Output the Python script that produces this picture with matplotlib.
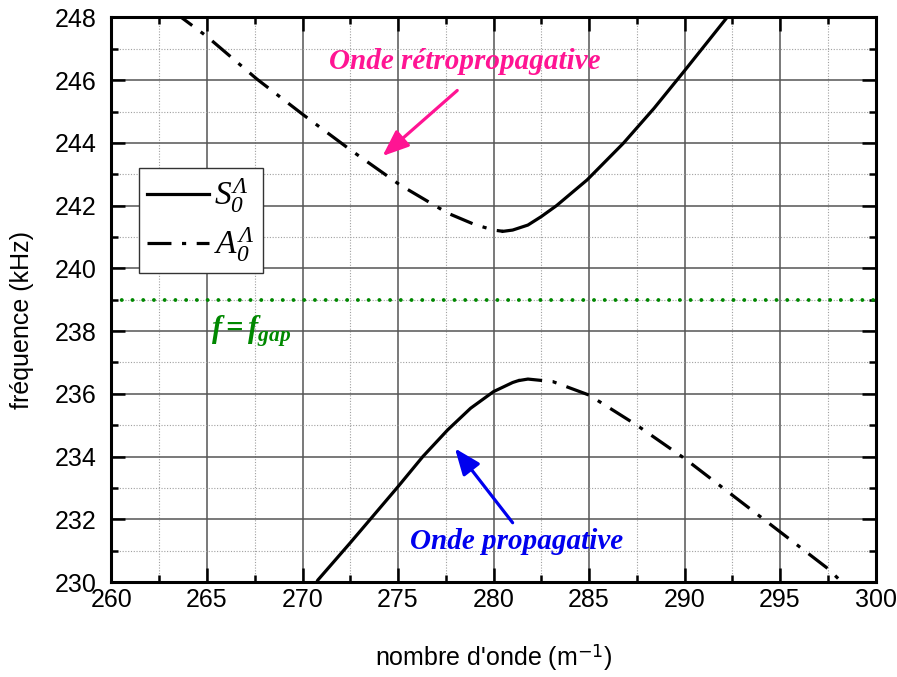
import matplotlib
matplotlib.use("Agg")
import matplotlib.pyplot as plt
from matplotlib.ticker import MultipleLocator

plt.rcParams["font.family"] = ["Liberation Sans", "DejaVu Sans"]
plt.rcParams["mathtext.fontset"] = "custom"
plt.rcParams["mathtext.rm"] = "Liberation Serif:italic"
plt.rcParams["mathtext.it"] = "Liberation Serif:italic"
plt.rcParams["mathtext.bf"] = "Liberation Serif:italic:bold"

# branche S0 (trait plein)
s0_up_k = [280.5, 281.0, 281.8, 282.5, 283.3, 284.9, 286.8, 288.4, 290.0, 292.2, 292.5]
s0_up_f = [241.18, 241.22, 241.38, 241.65, 242.0, 242.82, 243.99, 245.1, 246.3, 247.98, 248.3]
s0_lo_k = [270.6, 270.8, 272.5, 275.0, 276.3, 277.6, 278.8, 280.0, 281.0, 281.3]
s0_lo_f = [229.8, 230.06, 231.25, 233.04, 234.0, 234.85, 235.54, 236.07, 236.36, 236.42]

# branche A0 (tiret-point)
a0_up_k = [263.3, 263.7, 265.0, 267.6, 270.05, 272.5, 275.1, 277.6, 279.0, 280.0, 280.5]
a0_up_f = [248.25, 247.98, 247.39, 246.04, 244.89, 243.78, 242.66, 241.76, 241.4, 241.22, 241.18]
a0_lo_k = [281.3, 281.8, 283.1, 285.0, 287.5, 290.0, 292.5, 295.0, 297.5, 298.4]
a0_lo_f = [236.42, 236.47, 236.39, 235.96, 235.0, 233.94, 232.77, 231.6, 230.43, 229.9]

f_gap = 239.0

fig = plt.figure(figsize=(8.97, 6.77), dpi=100)
ax = fig.add_axes([0.1243, 0.1403, 0.8518, 0.834])

dashdot = (0, (7.5, 3.3, 1.3, 3.3))
ln_s, = ax.plot(s0_up_k, s0_up_f, color="black", lw=2.3, label=r"$S_{0}^{\Lambda}$")
ax.plot(s0_lo_k, s0_lo_f, color="black", lw=2.3)
ln_a, = ax.plot(a0_up_k, a0_up_f, color="black", lw=2.3, ls=dashdot,
                label=r"$A_{0}^{\Lambda}$")
ax.plot(a0_lo_k, a0_lo_f, color="black", lw=2.3, ls=dashdot)

ax.axhline(f_gap, color="#008800", lw=2.8, ls=(0, (0.01, 2.75)),
           dash_capstyle="round")

ax.set_xlim(260, 300)
ax.set_ylim(230, 248)
ax.xaxis.set_major_locator(MultipleLocator(5))
ax.xaxis.set_minor_locator(MultipleLocator(2.5))
ax.yaxis.set_major_locator(MultipleLocator(2))
ax.yaxis.set_minor_locator(MultipleLocator(1))

ax.grid(True, which="major", color="#555555", lw=1.1, ls="-")
ax.grid(True, which="minor", color="#a0a0a0", lw=0.8, ls=(0, (1, 1.5)))
ax.set_axisbelow(True)

for s in ax.spines.values():
    s.set_linewidth(2.2)
ax.tick_params(which="both", direction="in", top=True, right=True, width=1.8)
ax.tick_params(which="major", length=10)
ax.tick_params(which="minor", length=5)
ax.tick_params(axis="y", which="major", labelsize=18, pad=11)
ax.tick_params(axis="x", which="major", labelsize=18, pad=4)

ax.set_xlabel("nombre d'onde (m$^{\\mathsf{-1}}$)", fontsize=18, labelpad=22)
ax.set_ylabel("fréquence (kHz)", fontsize=18)
ax.yaxis.set_label_coords(-0.102, 0.464)

leg = ax.legend(handles=[ln_s, ln_a], loc="upper left", bbox_to_anchor=(0.036, 0.733),
                fontsize=24, frameon=True, fancybox=False, framealpha=1,
                edgecolor="#333333", handlelength=1.85, borderpad=0.25,
                labelspacing=0.3, handletextpad=0.15, borderaxespad=0)
leg.get_frame().set_linewidth(1.0)

# annotations
ax.text(278.5, 246.6, "Onde rétropropagative", color="#FF1493", fontsize=21,
        family="Liberation Serif", style="italic", weight="bold", ha="center", va="center")
ax.annotate("", xy=(274.19, 243.58), xytext=(278.1, 245.67),
            arrowprops=dict(arrowstyle="-|>,head_length=1.0,head_width=0.4",
                            color="#FF1493", lw=2.3, mutation_scale=16, shrinkA=0, shrinkB=0))

ax.text(281.2, 231.28, "Onde propagative", color="#0000EE", fontsize=21,
        family="Liberation Serif", style="italic", weight="bold", ha="center", va="center")
ax.annotate("", xy=(277.98, 234.26), xytext=(281.0, 231.89),
            arrowprops=dict(arrowstyle="-|>,head_length=1.0,head_width=0.4",
                            color="#0000EE", lw=2.3, mutation_scale=16, shrinkA=0, shrinkB=0))

ax.text(265.2, 238.0, r"$\mathbf{f=f_{gap}}$", color="#008800", fontsize=22,
        ha="left", va="center")

fig.savefig("out.png", dpi=100)
